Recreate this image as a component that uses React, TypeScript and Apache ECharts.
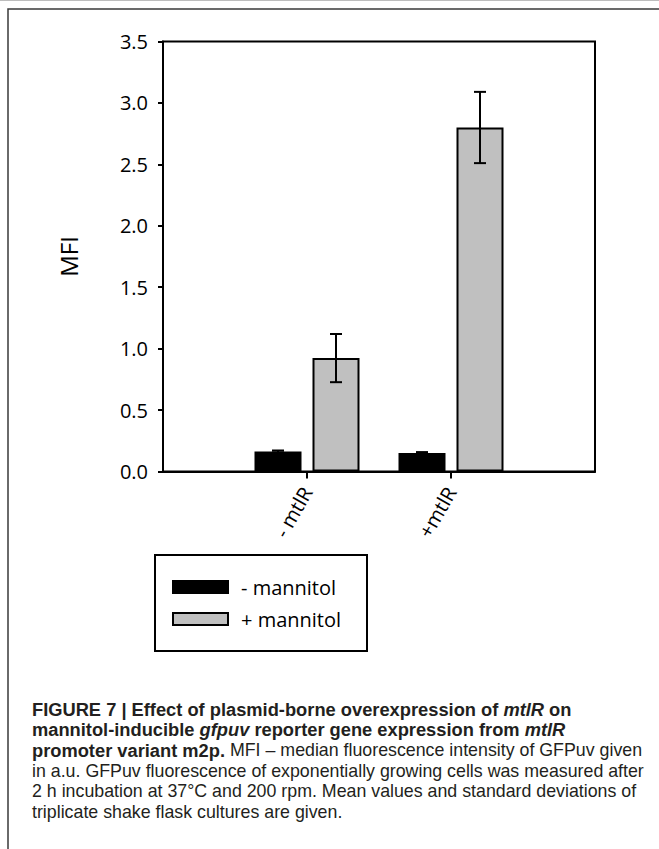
import React, { useEffect, useRef } from "react";
import * as echarts from "echarts";

const categories = ["", "- mtlR", "+mtlR", ""];
const seriesNames = ["- mannitol", "+ mannitol"];
const minusMannitol = [null, 0.163, 0.15, null];
const plusMannitol = [null, 0.923, 2.8, null];
const minusErr = [null, 0.008, 0.008, null];
const plusErr = [null, 0.196, 0.29, null];
const yMin = 0;
const yMax = 3.5;
const yInterval = 0.5;

const captionLines = [
  "{b|FIGURE 7 | Effect of plasmid-borne overexpression of }{bi|mtlR}{b| on}",
  "{b|mannitol-inducible }{bi|gfpuv}{b| reporter gene expression from }{bi|mtlR}",
  "{b|promoter variant m2p.}{n| MFI – median fluorescence intensity of GFPuv given}",
  "{n|in a.u. GFPuv fluorescence of exponentially growing cells was measured after}",
  "{n|2 h incubation at 37°C and 200 rpm. Mean values and standard deviations of}",
  "{n|triplicate shake flask cultures are given.}",
];

const BAR_W = 47;
const BAR_GAP_PX = 11;
const OFFSET = (BAR_W + BAR_GAP_PX) / 2;
const AXIS_FONT = "'Open Sans', 'DejaVu Sans', sans-serif";
const CAP_FONT = "'Liberation Sans', Arial, sans-serif";
const CAP_SIZE = 17.8;
const CAP_BOLD = 18.3;
const CAP_COLOR = "#231f20";

function errData(vals: (number | null)[], errs: (number | null)[]) {
  const out: number[][] = [];
  vals.forEach((v, i) => {
    if (v != null && errs[i] != null) out.push([i, v, errs[i] as number]);
  });
  return out;
}

function errorSeries(data: number[][], offset: number) {
  return {
    type: "custom",
    z: 10,
    silent: true,
    data,
    encode: { x: 0, y: 1 },
    renderItem: (_params: any, api: any) => {
      const x = api.value(0);
      const v = api.value(1);
      const e = api.value(2);
      const top = api.coord([x, v + e]);
      const bot = api.coord([x, v - e]);
      const cx = top[0] + offset;
      const cap = 6;
      const style = { stroke: "#000", lineWidth: 2 };
      return {
        type: "group",
        children: [
          { type: "line", shape: { x1: cx, y1: top[1], x2: cx, y2: bot[1] }, style },
          { type: "line", shape: { x1: cx - cap, y1: top[1], x2: cx + cap, y2: top[1] }, style },
          { type: "line", shape: { x1: cx - cap, y1: bot[1], x2: cx + cap, y2: bot[1] }, style },
        ],
      };
    },
  };
}

export default function App() {
  const ref = useRef<HTMLDivElement>(null);
  useEffect(() => {
    if (!ref.current) return;
    const chart = echarts.init(ref.current, null, { renderer: "svg" });
    const rich = {
      b: { fontFamily: CAP_FONT, fontSize: CAP_BOLD, fontWeight: "bold", fill: CAP_COLOR, color: CAP_COLOR },
      bi: { fontFamily: CAP_FONT, fontSize: CAP_BOLD, fontWeight: "bold", fontStyle: "italic", fill: CAP_COLOR, color: CAP_COLOR },
      n: { fontFamily: CAP_FONT, fontSize: CAP_SIZE, fill: CAP_COLOR, color: CAP_COLOR },
    };
    const captionY0 = 709;
    const captionStep = 20.6;
    const captionEls = captionLines.map((t, i) => ({
      type: "text",
      x: 32,
      y: captionY0 + i * captionStep,
      style: { text: t, rich, verticalAlign: "middle", align: "left" },
    }));
    chart.setOption({
      animation: false,
      backgroundColor: "#fff",
      grid: {
        left: 163,
        top: 41.5,
        width: 432,
        height: 430,
        show: true,
        borderColor: "#000",
        borderWidth: 2,
        backgroundColor: "transparent",
      },
      legend: {
        orient: "vertical",
        left: 172,
        top: 577,
        padding: 0,
        itemWidth: 55,
        itemHeight: 12,
        itemGap: 12,
        icon: "rect",
        data: seriesNames,
        textStyle: { fontFamily: AXIS_FONT, fontSize: 20, color: "#000", lineHeight: 20, padding: [0, 0, 0, 8] },
      },
      xAxis: {
        type: "category",
        data: categories,
        boundaryGap: false,
        axisLine: { lineStyle: { color: "#000", width: 2 } },
        axisTick: {
          show: true,
          length: 7,
          interval: (i: number) => i === 1 || i === 2,
          lineStyle: { color: "#000", width: 2 },
        },
        axisLabel: {
          interval: 0,
          rotate: 60,
          margin: 17,
          fontFamily: AXIS_FONT,
          fontSize: 20,
          color: "#000",
        },
        splitLine: { show: false },
      },
      yAxis: {
        type: "value",
        min: yMin,
        max: yMax,
        interval: yInterval,
        name: "MFI",
        nameLocation: "middle",
        nameRotate: 90,
        nameGap: 83,
        nameTextStyle: { fontFamily: AXIS_FONT, fontSize: 24, color: "#000" },
        axisLine: { show: true, lineStyle: { color: "#000", width: 2 } },
        axisTick: { show: true, length: 5, lineStyle: { color: "#000", width: 2 } },
        axisLabel: {
          margin: 15,
          fontFamily: AXIS_FONT,
          fontSize: 20,
          color: "#000",
          formatter: (v: number) => v.toFixed(1),
        },
        splitLine: { show: false },
      },
      series: [
        {
          name: seriesNames[0],
          type: "bar",
          data: minusMannitol,
          barWidth: BAR_W,
          barGap: `${(BAR_GAP_PX / BAR_W) * 100}%`,
          itemStyle: { color: "#000", borderColor: "#000", borderWidth: 2 },
        },
        {
          name: seriesNames[1],
          type: "bar",
          data: plusMannitol,
          barWidth: BAR_W,
          itemStyle: { color: "#c0c0c0", borderColor: "#000", borderWidth: 2 },
        },
        errorSeries(errData(minusMannitol, minusErr), -OFFSET),
        errorSeries(errData(plusMannitol, plusErr), OFFSET),
      ],
      graphic: [
        {
          type: "polyline",
          shape: { points: [[8, 849], [8, 9], [659, 9]] },
          style: { stroke: "#3a3a3a", lineWidth: 1.5, fill: "none" },
        },
        {
          type: "line",
          shape: { x1: 0, y1: 0.5, x2: 659, y2: 0.5 },
          style: { stroke: "#bdbdbd", lineWidth: 1 },
        },
        {
          type: "rect",
          shape: { x: 155, y: 555, width: 212, height: 96 },
          style: { stroke: "#000", lineWidth: 2, fill: "none" },
        },
        ...captionEls,
      ],
    });
    return () => chart.dispose();
  }, []);
  return (
    <div
      ref={ref}
      style={{ position: "absolute", left: 0, top: 0, width: 659, height: 849 }}
    />
  );
}
